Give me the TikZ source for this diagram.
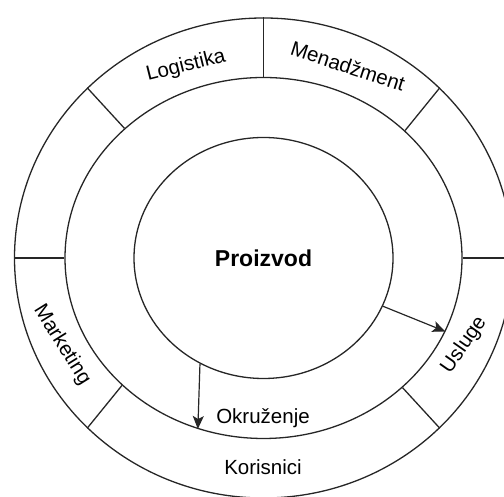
\documentclass[tikz,border=0pt]{standalone}
\usepackage{fontspec}
\setmainfont{Liberation Sans}
\usetikzlibrary{shapes.geometric,arrows.meta}
\begin{document}
\begin{tikzpicture}[x=1pt,y=1pt,
  ring/.style={draw=black!85, ellipse, inner sep=0pt, line width=1.3pt},
  divider/.style={draw=black!85, line width=1.3pt},
  arr/.style={draw=black!85, line width=1.2pt, -{Stealth[length=13pt,width=11pt,inset=3pt]}},
  lbl/.style={font=\fontsize{20.5}{24}\selectfont, inner sep=0pt}]
\useasboundingbox (0,0) rectangle (504,497);
\clip (0,0) rectangle (504,497);
\coordinate (c) at (263.5,239);
% three nested rings
\node[ring, minimum width=498pt, minimum height=480pt] (korisnici) at (c) {};
\node[ring, minimum width=397pt, minimum height=361pt] (okruzenje) at (c) {};
\node[ring, minimum width=259pt, minimum height=241pt,
      font=\bfseries\fontsize{23}{27}\selectfont] (proizvod) at (c) {Proizvod};
% dividers of the outer ring
\draw[divider] (okruzenje.90) -- (korisnici.90);
\draw[divider] (okruzenje.180) -- (korisnici.180);
\draw[divider] (okruzenje.0) -- (korisnici.0);
\draw[divider] (okruzenje.137.7) -- (korisnici.136);
\draw[divider] (okruzenje.42.3) -- (korisnici.44);
\draw[divider] (okruzenje.222.3) -- (korisnici.224);
\draw[divider] (okruzenje.317.7) -- (korisnici.316);
% arrows from the product to its environment
\draw[arr] (proizvod.239.3) -- (okruzenje.249.7);
\draw[arr] (proizvod.-22.3) -- (okruzenje.-22.3);
% labels
\node[lbl, anchor=base] (tokr) at (263,73) {Okruženje};
\node[lbl, anchor=base] (tkor) at (263,22) {Korisnici};
\node[lbl, rotate=14] (tlog) at (186,431) {Logistika};
\node[lbl, rotate=-18] (tmen) at (348,431) {Menadžment};
\node[lbl, rotate=-58] (tmar) at (62,152) {Marketing};
\node[lbl, rotate=55] (tusl) at (464,152) {Usluge};
\end{tikzpicture}
\end{document}
